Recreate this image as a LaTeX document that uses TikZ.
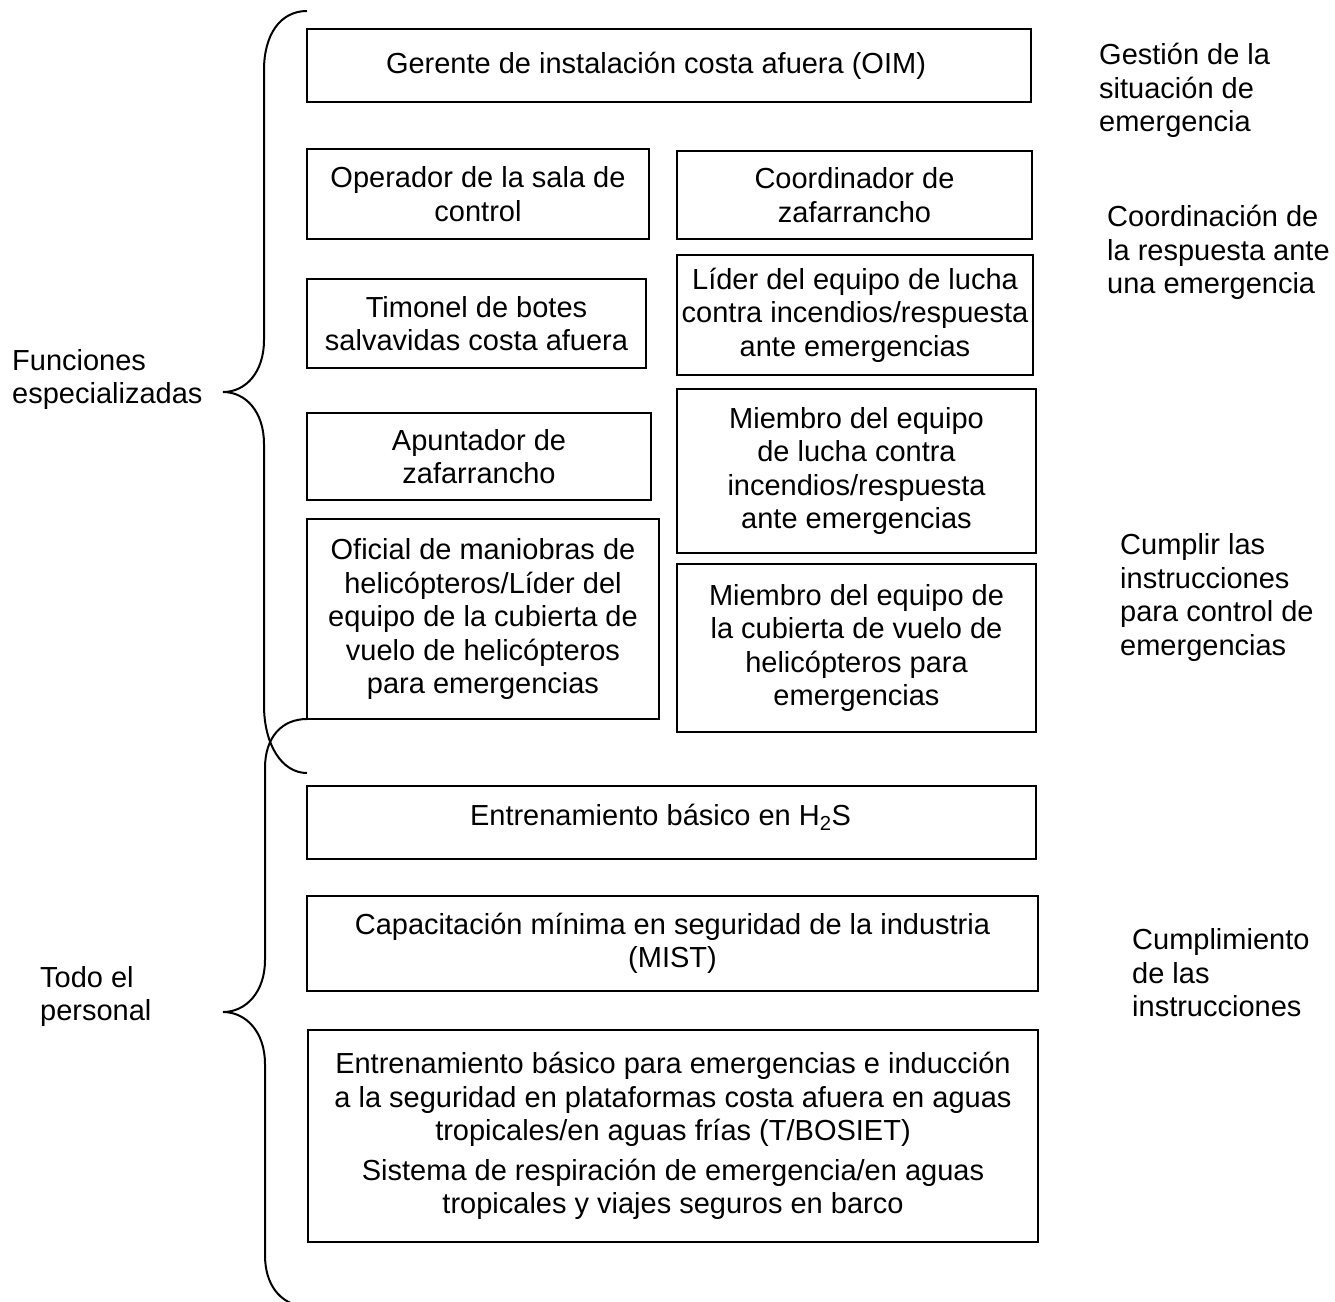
\documentclass[tikz,border=0pt]{standalone}
\usepackage{fontspec}
\setmainfont{Liberation Sans}
\begin{document}
\begin{tikzpicture}[x=1pt,y=-1pt,
  box/.style={draw, line width=2pt, inner sep=0pt, align=center,
    font=\fontsize{29}{33.5}\selectfont},
  side/.style={inner sep=0pt, align=left, anchor=west,
    font=\fontsize{29}{33.5}\selectfont},
  brace/.style={draw, line width=2pt}]
\clip (0,0) rectangle (1335,1301);
\fill[white] (0,0) rectangle (1335,1301);

% boxes
\node[box, minimum width=724pt, minimum height=73pt] (oim) at (669,65.5) {Gerente de instalación costa afuera (OIM)\hspace*{26pt}};
\node[box, minimum width=342pt, minimum height=90pt] (ctrl) at (478,194) {Operador de la sala de\\control};
\node[box, minimum width=355pt, minimum height=88pt] (coord) at (854.5,195) {Coordinador de\\zafarrancho};
\node[box, minimum width=339pt, minimum height=89pt] (timonel) at (476.5,323.5) {Timonel de botes\\salvavidas costa afuera};
\node[box, minimum width=356pt, minimum height=120pt] (lider) at (855,315) {Líder del equipo de lucha\\contra incendios/respuesta\\ante emergencias};
\node[box, minimum width=344pt, minimum height=87pt] (apunt) at (479,456.5) {Apuntador de\\zafarrancho};
\node[box, minimum width=359pt, minimum height=164pt] (miembroA) at (856.5,471) {Miembro del equipo\\de lucha contra\\incendios/respuesta\\ante emergencias};
\node[box, minimum width=352pt, minimum height=200pt] (oficial) at (483,619) {Oficial de maniobras de\\helicópteros/Líder del\\equipo de la cubierta de\\vuelo de helicópteros\\para emergencias};
\node[box, minimum width=359pt, minimum height=168pt] (miembroB) at (856.5,648) {Miembro del equipo de\\la cubierta de vuelo de\\helicópteros para\\emergencias};
\node[box, minimum width=729pt, minimum height=73pt] (h2s) at (671.5,822.5) {\raisebox{16pt}{Entrenamiento básico en H\textsubscript{2}S}\hspace*{22pt}};
\node[box, minimum width=731pt, minimum height=95pt] (mist) at (672.5,943.5) {Capacitación mínima en seguridad de la industria\\(MIST)};
\node[box, minimum width=730pt, minimum height=212pt] (bosiet) at (673,1136) {Entrenamiento básico para emergencias e inducción\\a la seguridad en plataformas costa afuera en aguas\\tropicales/en aguas frías (T/BOSIET)\\[6pt]Sistema de respiración de emergencia/en aguas\\tropicales y viajes seguros en barco};

% side labels
\node[side] (gest) at (1099,90.5) {Gestión de la\\situación de\\emergencia};
\node[side] (coordr) at (1107,252.5) {Coordinación de\\la respuesta ante\\una emergencia};
\node[side] (cumplir) at (1120,597.5) {Cumplir las\\instrucciones\\para control de\\emergencias};
\node[side] (cumplim) at (1132,973) {Cumplimiento\\de las\\instrucciones};
\node[side] (func) at (12,379.5) {Funciones\\especializadas};
\node[side] (todo) at (40,996.5) {Todo el\\personal};

% braces
\coordinate (tipA) at (223,392);
\coordinate (tipB) at (223,1012);
\path[brace] (307,11) .. controls (280,11) and (264,35) .. (264,70)
  -- (264,340) .. controls (264,372) and (246,392) .. (tipA)
  .. controls (246,392) and (264,412) .. (264,444)
  -- (264,705) .. controls (264,745) and (282,773) .. (307,773);
\path[brace] (307,719) .. controls (282,719) and (265,737) .. (265,768)
  -- (265,960) .. controls (265,992) and (246,1012) .. (tipB)
  .. controls (246,1012) and (265,1032) .. (265,1064)
  -- (265,1255) .. controls (265,1285) and (280,1302) .. (300,1306);
\end{tikzpicture}
\end{document}
